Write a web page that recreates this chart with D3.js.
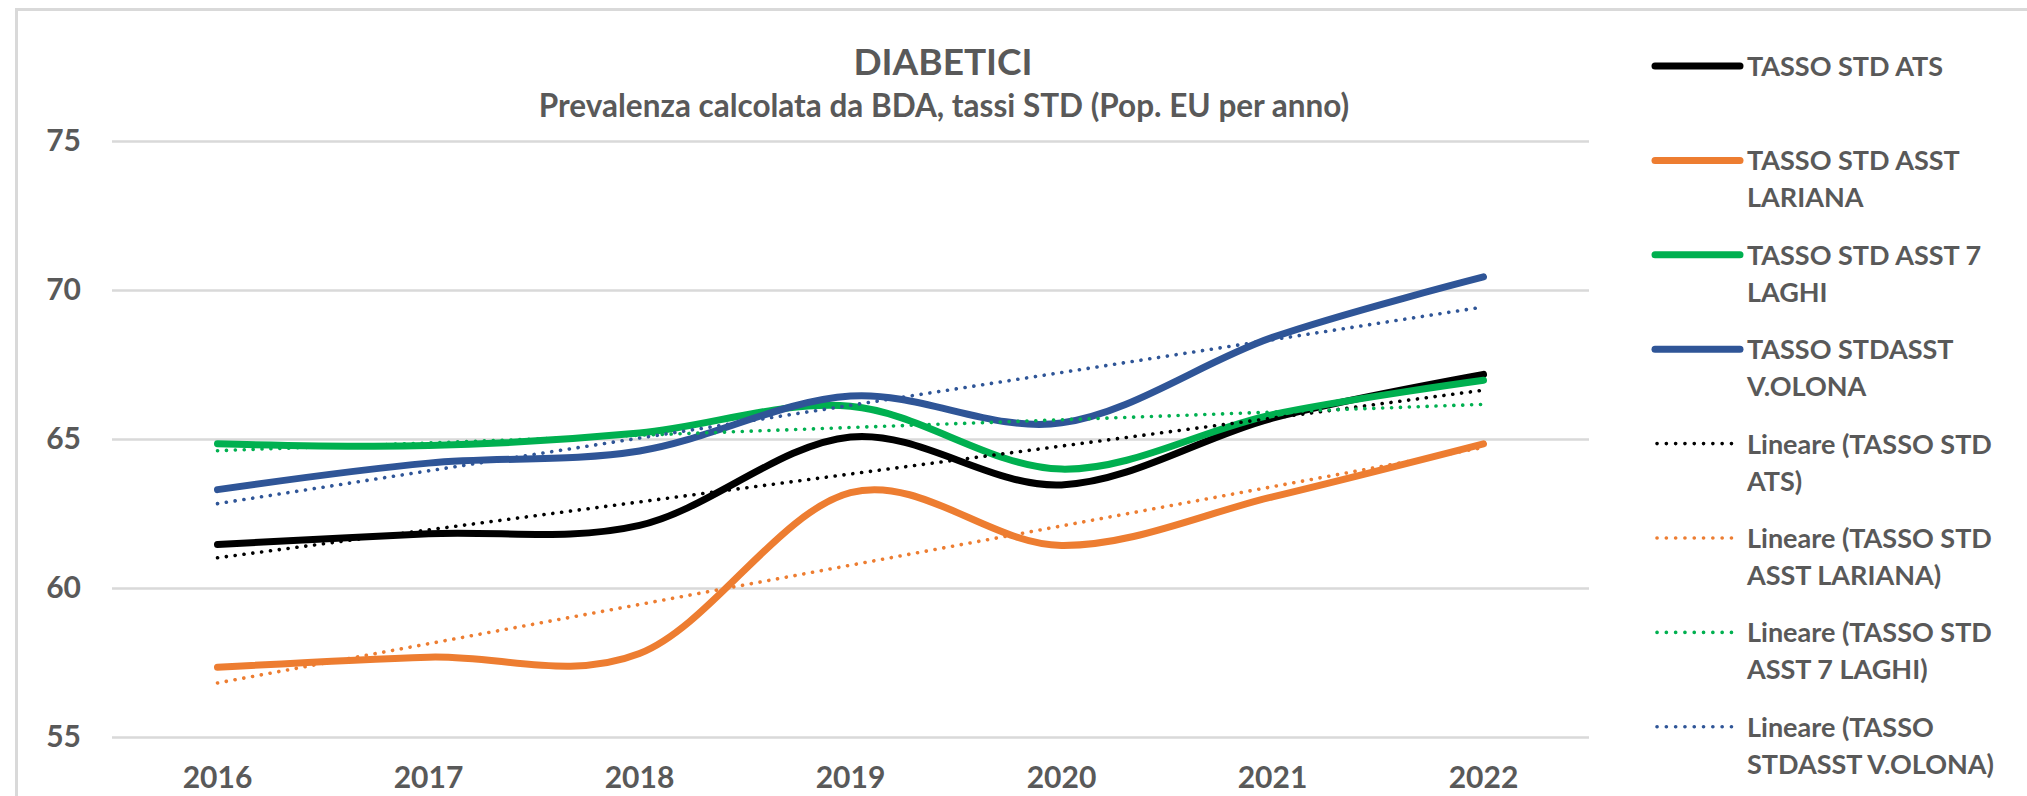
<!DOCTYPE html>
<html>
<head>
<meta charset="utf-8">
<script src="https://cdn.jsdelivr.net/npm/d3@7"></script>
<style>
    html, body { margin: 0; padding: 0; background: #ffffff; overflow: hidden; }
    svg { display: block; }
    text { font-family: Lato, "Open Sans", sans-serif; font-weight: 700; fill: #595959; }
</style>
</head>
<body>
<div id="chart"></div>
<script>
/* Data --------------------------------------------------------------------- */

const years = ["2016", "2017", "2018", "2019", "2020", "2021", "2022"];

const tassoStdAts     = [61.46, 61.82, 62.10, 65.07, 63.46, 65.70, 67.17];
const tassoStdLariana = [57.34, 57.68, 57.80, 63.20, 61.43, 63.06, 64.84];
const tassoStd7Laghi  = [64.84, 64.78, 65.20, 66.10, 63.99, 65.82, 66.97];
const tassoStdVOlona  = [63.30, 64.19, 64.60, 66.44, 65.54, 68.41, 70.44];

const yTicks = [55, 60, 65, 70, 75];

const seriesLabels = [
    ["TASSO STD ATS"],
    ["TASSO STD ASST", "LARIANA"],
    ["TASSO STD ASST 7", "LAGHI"],
    ["TASSO STDASST", "V.OLONA"]
];

const trendLabels = [
    ["Lineare (TASSO STD", "ATS)"],
    ["Lineare (TASSO STD", "ASST LARIANA)"],
    ["Lineare (TASSO STD", "ASST 7 LAGHI)"],
    ["Lineare (TASSO", "STDASST V.OLONA)"]
];

const seriesColors = ["#000000", "#ED7D31", "#00B050", "#2F5597"];

const titleText = "DIABETICI";
const subtitleText = "Prevalenza calcolata da BDA, tassi STD (Pop. EU per anno)";

/* Settings ----------------------------------------------------------------- */

const settings = {
    width: 2027,
    height: 796,
    plotLeft: 112,
    plotRight: 1589,
    plotTop: 141,
    plotBottom: 737,
    gridColor: "#d9d9d9",
    lineWidth: 7,
    trendWidth: 3.6,
    legendX: 1655,
    legendTop: 66,
    legendStep: 94.4,
    legendLineHeight: 37
};

/* Helpers ------------------------------------------------------------------ */

// Least squares line over the category index, as the spreadsheet trendline
function linearTrend(values) {
    const n = values.length;
    const mx = d3.mean(values, (d, i) => i);
    const my = d3.mean(values);
    const sxy = d3.sum(values, (d, i) => (i - mx) * (d - my));
    const sxx = d3.sum(values, (d, i) => (i - mx) * (i - mx));
    const slope = sxy / sxx;
    return [0, n - 1].map(i => ({ index: i, value: my + slope * (i - mx) }));
}

/* Draw graphic ------------------------------------------------------------- */

function drawGraphic() {

    const series = [tassoStdAts, tassoStdLariana, tassoStd7Laghi, tassoStdVOlona]
        .map((values, k) => ({
            color: seriesColors[k],
            points: values.map((v, i) => ({ year: years[i], value: v })),
            trend: linearTrend(values)
        }));

    const x = d3.scaleBand()
        .domain(years)
        .range([settings.plotLeft, settings.plotRight]);

    const xCenter = year => x(year) + x.bandwidth() / 2;

    const y = d3.scaleLinear()
        .domain([55, 75])
        .range([settings.plotBottom, settings.plotTop]);

    const svg = d3.select("#chart")
        .append("svg")
        .attr("width", settings.width)
        .attr("height", settings.height);

    // Chart area border (runs past the right and bottom edges)
    svg.append("rect")
        .attr("x", 16.5)
        .attr("y", 9.5)
        .attr("width", settings.width + 40)
        .attr("height", settings.height + 40)
        .attr("fill", "#ffffff")
        .attr("stroke", "#d9d9d9")
        .attr("stroke-width", 3);

    // Title
    svg.append("text")
        .attr("x", 943)
        .attr("y", 75)
        .attr("text-anchor", "middle")
        .style("font-size", "37px")
        .text(titleText);

    svg.append("text")
        .attr("x", 944)
        .attr("y", 117)
        .attr("text-anchor", "middle")
        .style("font-size", "31.5px")
        .text(subtitleText);

    // Y axis with gridlines
    const yAxis = svg.append("g")
        .attr("class", "yaxis")
        .attr("transform", `translate(${settings.plotLeft},0)`)
        .call(d3.axisLeft(y)
            .tickValues(yTicks)
            .tickSize(-(settings.plotRight - settings.plotLeft))
            .tickPadding(31));

    yAxis.select(".domain").remove();

    yAxis.selectAll(".tick line")
        .attr("stroke", settings.gridColor)
        .attr("stroke-width", 2.5);

    yAxis.selectAll(".tick text")
        .attr("fill", "#595959")
        .style("font-family", "Lato, 'Open Sans', sans-serif")
        .style("font-weight", 700)
        .style("font-size", "30px");

    // X axis labels (kept just inside the bottom edge)
    const xAxis = svg.append("g")
        .attr("class", "xaxis")
        .attr("transform", `translate(0,${settings.plotBottom})`)
        .call(d3.axisBottom(x).tickSize(0));

    xAxis.select(".domain").remove();

    xAxis.selectAll(".tick text")
        .attr("y", 51)
        .attr("dy", 0)
        .attr("fill", "#595959")
        .style("font-family", "Lato, 'Open Sans', sans-serif")
        .style("font-weight", 700)
        .style("font-size", "30px");

    // Smoothed series lines
    const line = d3.line()
        .x(d => xCenter(d.year))
        .y(d => y(d.value))
        .curve(d3.curveCatmullRom.alpha(0));

    svg.append("g")
        .selectAll("path")
        .data(series)
        .join("path")
        .attr("d", d => line(d.points))
        .attr("fill", "none")
        .attr("stroke", d => d.color)
        .attr("stroke-width", settings.lineWidth)
        .attr("stroke-linecap", "round")
        .attr("stroke-linejoin", "round");

    // Linear trendlines
    const trendLine = d3.line()
        .x(d => xCenter(years[d.index]))
        .y(d => y(d.value));

    svg.append("g")
        .selectAll("path")
        .data(series)
        .join("path")
        .attr("d", d => trendLine(d.trend))
        .attr("fill", "none")
        .attr("stroke", d => d.color)
        .attr("stroke-width", settings.trendWidth)
        .attr("stroke-linecap", "round")
        .attr("stroke-dasharray", "0.1 8.8");

    // Legend
    const legendItems = series.map((s, k) => ({ color: s.color, lines: seriesLabels[k], dotted: false }))
        .concat(series.map((s, k) => ({ color: s.color, lines: trendLabels[k], dotted: true })));

    const legend = svg.append("g")
        .selectAll("g")
        .data(legendItems)
        .join("g")
        .attr("transform", (d, i) =>
            `translate(${settings.legendX},${settings.legendTop + i * settings.legendStep})`);

    legend.append("line")
        .attr("x1", d => d.dotted ? 2 : 0)
        .attr("x2", d => d.dotted ? 77 : 85)
        .attr("stroke", d => d.color)
        .attr("stroke-width", d => d.dotted ? settings.trendWidth : settings.lineWidth)
        .attr("stroke-linecap", "round")
        .attr("stroke-dasharray", d => d.dotted ? "0.1 9.2" : null);

    legend.append("text")
        .attr("x", 92)
        .attr("y", 0)
        .style("font-size", "27px")
        .selectAll("tspan")
        .data(d => d.lines)
        .join("tspan")
        .attr("x", 92)
        .attr("y", (d, i) => 10 + i * settings.legendLineHeight)
        .text(d => d);
}

drawGraphic();
</script>
</body>
</html>
